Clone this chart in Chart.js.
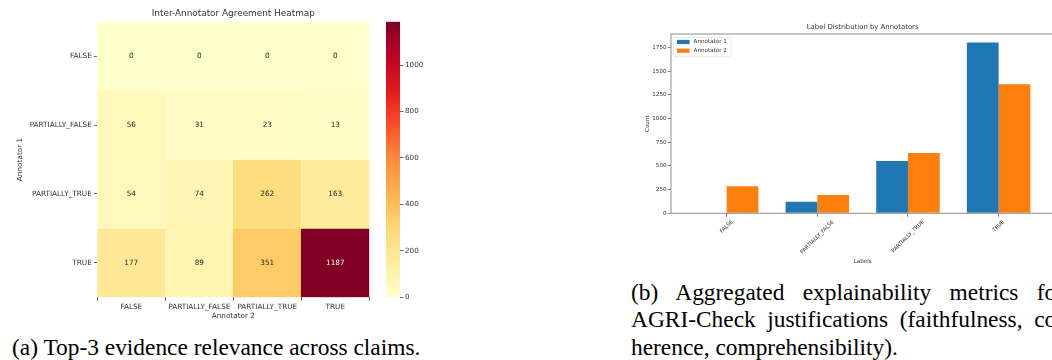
<!DOCTYPE html>
<html>
<head>
<meta charset="utf-8">
<script src="https://cdn.jsdelivr.net/npm/chart.js@4.4.1/dist/chart.umd.min.js"></script>
<style>
  html, body { margin: 0; padding: 0; background: #fff; width: 1052px; height: 360px; overflow: hidden; position: relative; }
  .box { position: absolute; }
  .cap { position: absolute; font-family: "Liberation Serif", "Times New Roman", serif; font-size: 23.4px; line-height: 27.2px; color: #000; white-space: nowrap; }
  .just { text-align: justify; text-align-last: justify; }
</style>
</head>
<body>
<div class="box" style="left:0;top:0;"><canvas id="heat" width="372" height="330"></canvas></div>
<div class="box" style="left:380px;top:0;"><canvas id="cbar" width="60" height="330"></canvas></div>
<div class="box" style="left:600px;top:0;"><canvas id="bars" width="460" height="270"></canvas></div>

<div class="cap" style="left:12px;top:333.6px;">(a) Top-3 evidence relevance across claims.</div>
<div class="cap" style="left:631px;top:279.2px;width:433px;">
  <div class="just">(b) Aggregated explainability metrics for</div>
  <div class="just">AGRI-Check justifications (faithfulness, co-</div>
  <div>herence, comprehensibility).</div>
</div>

<script>
// ---- data -------------------------------------------------------------
const verdictLabels = ['FALSE', 'PARTIALLY_FALSE', 'PARTIALLY_TRUE', 'TRUE'];

// rows: Annotator 1, columns: Annotator 2
const rowFalse          = [0, 0, 0, 0];
const rowPartiallyFalse = [56, 31, 23, 13];
const rowPartiallyTrue  = [54, 74, 262, 163];
const rowTrue           = [177, 89, 351, 1187];
const agreementRows = [rowFalse, rowPartiallyFalse, rowPartiallyTrue, rowTrue];

const colorbarTicks = [0, 200, 400, 600, 800, 1000];

// label totals per annotator
const annotator1Counts = [0, 123, 553, 1804];
const annotator2Counts = [287, 194, 636, 1363];
const countTicks = [0, 250, 500, 750, 1000, 1250, 1500, 1750];

// ---- helpers ----------------------------------------------------------
const SANS = '"DejaVu Sans", "Liberation Sans", sans-serif';
const TEXT = '#333333';

const ylOrRdStops = ['#ffffcc', '#ffeda0', '#fed976', '#feb24c', '#fd8d3c',
                     '#fc4e2a', '#e31a1c', '#bd0026', '#800026'];
function hexToRgb(h) {
  return [parseInt(h.slice(1, 3), 16), parseInt(h.slice(3, 5), 16), parseInt(h.slice(5, 7), 16)];
}
function ylOrRd(t) {
  t = Math.max(0, Math.min(1, t));
  const p = t * (ylOrRdStops.length - 1);
  const i = Math.min(ylOrRdStops.length - 2, Math.floor(p));
  const f = p - i;
  const a = hexToRgb(ylOrRdStops[i]), b = hexToRgb(ylOrRdStops[i + 1]);
  return a.map((v, k) => Math.round(v + (b[k] - v) * f));
}
const rgbStr = c => `rgb(${c[0]},${c[1]},${c[2]})`;
function luminance(c) {
  const lin = c.map(v => { v /= 255; return v <= 0.03928 ? v / 12.92 : Math.pow((v + 0.055) / 1.055, 2.4); });
  return 0.2126 * lin[0] + 0.7152 * lin[1] + 0.0722 * lin[2];
}
const plain = v => String(v);

const vmax = Math.max(...agreementRows.flat());

// ---- heatmap ----------------------------------------------------------
const cellLabels = {
  id: 'cellLabels',
  afterDatasetsDraw(chart) {
    const { ctx } = chart;
    ctx.save();
    ctx.font = `7.3px ${SANS}`;
    ctx.textAlign = 'center';
    ctx.textBaseline = 'middle';
    chart.data.datasets.forEach((ds, r) => {
      chart.getDatasetMeta(r).data.forEach((el, j) => {
        const v = agreementRows[r][j];
        const c = ylOrRd(v / vmax);
        ctx.fillStyle = luminance(c) > 0.408 ? '#262626' : '#ffffff';
        ctx.fillText(String(v), el.x, (el.y + el.base) / 2);
      });
    });
    ctx.restore();
  }
};

new Chart(document.getElementById('heat'), {
  type: 'bar',
  data: {
    labels: verdictLabels,
    datasets: agreementRows.map((row, r) => ({
      label: verdictLabels[r],
      data: row.map(() => [r, r + 1]),
      backgroundColor: row.map(v => rgbStr(ylOrRd(v / vmax))),
      borderWidth: 0,
      grouped: false,
      barPercentage: 1,
      categoryPercentage: 1
    }))
  },
  options: {
    responsive: false,
    animation: false,
    layout: { padding: { left: 0, right: 2.7, top: 0, bottom: 0 } },
    plugins: {
      legend: { display: false },
      tooltip: { enabled: false },
      title: {
        display: true,
        text: 'Inter-Annotator Agreement Heatmap',
        color: TEXT,
        fullSize: false,
        font: { family: SANS, size: 8.9, weight: 'normal' },
        padding: { top: 8.6, bottom: 2.4 }
      }
    },
    scales: {
      x: {
        type: 'category',
        border: { display: false },
        grid: { drawOnChartArea: false, drawTicks: true, tickLength: 3.5, tickColor: '#444', tickWidth: 0.8 },
        ticks: { color: TEXT, font: { family: SANS, size: 7.3 }, padding: 1.5, maxRotation: 0, autoSkip: false },
        title: { display: true, text: 'Annotator 2', color: TEXT, font: { family: SANS, size: 7.3 }, padding: { top: 0, bottom: 9.2 } },
        afterFit(scale) { scale.height = 32.7; }
      },
      y: {
        type: 'linear',
        min: 0,
        max: verdictLabels.length,
        reverse: true,
        border: { display: false },
        grid: { drawOnChartArea: false, drawTicks: true, tickLength: 3.5, tickColor: '#444', tickWidth: 0.8 },
        afterBuildTicks(scale) { scale.ticks = verdictLabels.map((_, i) => ({ value: i + 0.5 })); },
        ticks: {
          color: TEXT, font: { family: SANS, size: 7.3 }, padding: 2,
          callback: v => verdictLabels[Math.floor(v)]
        },
        title: { display: true, text: 'Annotator 1', color: TEXT, font: { family: SANS, size: 7.3 }, padding: { top: 16, bottom: 0 } },
        afterFit(scale) { scale.width = 97.3; }
      }
    }
  },
  plugins: [cellLabels]
});

// ---- colour bar -------------------------------------------------------
new Chart(document.getElementById('cbar'), {
  type: 'bar',
  data: {
    labels: ['scale'],
    datasets: [{
      data: [[0, vmax]],
      borderWidth: 0,
      barPercentage: 1,
      categoryPercentage: 1,
      backgroundColor(ctx) {
        const area = ctx.chart.chartArea;
        if (!area) return ylOrRdStops[0];
        const g = ctx.chart.ctx.createLinearGradient(0, area.bottom, 0, area.top);
        ylOrRdStops.forEach((c, i) => g.addColorStop(i / (ylOrRdStops.length - 1), c));
        return g;
      }
    }]
  },
  options: {
    responsive: false,
    animation: false,
    layout: { padding: { left: 6, right: 0, top: 21.7, bottom: 32.7 } },
    plugins: { legend: { display: false }, tooltip: { enabled: false } },
    scales: {
      x: { display: false },
      y: {
        position: 'right',
        min: 0,
        max: vmax,
        border: { display: false },
        grid: { drawOnChartArea: false, drawTicks: true, tickLength: 3.5, tickColor: '#444', tickWidth: 0.8 },
        afterBuildTicks(scale) { scale.ticks = colorbarTicks.map(v => ({ value: v })); },
        ticks: { color: TEXT, font: { family: SANS, size: 7.2 }, padding: 1.5, callback: plain },
        afterFit(scale) { scale.width = 40; }
      }
    }
  }
});

// ---- label distribution bars -----------------------------------------
const frame = {
  id: 'frame',
  afterDatasetsDraw(chart) {
    const { ctx, chartArea: a } = chart;
    ctx.save();
    ctx.strokeStyle = '#8c8c8c';
    ctx.lineWidth = 1;
    ctx.strokeRect(a.left, a.top, a.right - a.left, a.bottom - a.top);
    ctx.restore();
  }
};

const boxedLegend = {
  id: 'boxedLegend',
  afterDatasetsDraw(chart) {
    const { ctx, chartArea: a } = chart;
    const items = chart.data.datasets;
    ctx.save();
    ctx.font = `5.6px ${SANS}`;
    const tw = Math.max(...items.map(d => ctx.measureText(d.label).width));
    const x0 = a.left + 2.6, y0 = a.top + 3.3;
    const w = 20 + tw + 4, h = 19.4;
    ctx.beginPath();
    ctx.roundRect(x0, y0, w, h, 1.5);
    ctx.fillStyle = 'rgba(255,255,255,0.8)';
    ctx.fill();
    ctx.strokeStyle = '#d6d6d6';
    ctx.lineWidth = 0.6;
    ctx.stroke();
    ctx.textBaseline = 'middle';
    items.forEach((d, i) => {
      const cy = y0 + 4.7 + i * 8.7;
      ctx.fillStyle = d.backgroundColor;
      ctx.fillRect(x0 + 3.4, cy - 2.1, 12.6, 4.2);
      ctx.fillStyle = TEXT;
      ctx.fillText(d.label, x0 + 20, cy);
    });
    ctx.restore();
  }
};

const slantedLabels = {
  id: 'slantedLabels',
  afterDraw(chart) {
    const { ctx, chartArea: a } = chart;
    const xs = chart.scales.x;
    const fs = 5.3;
    ctx.save();
    ctx.font = `${fs}px ${SANS}`;
    ctx.fillStyle = TEXT;
    ctx.textAlign = 'center';
    ctx.textBaseline = 'middle';
    verdictLabels.forEach((lab, i) => {
      const w = ctx.measureText(lab).width;
      const half = (w + fs) * Math.SQRT1_2 / 2;
      const cx = xs.getPixelForValue(i);
      const cy = a.bottom + 3.5 + 2.4 + half;
      ctx.save();
      ctx.translate(cx, cy);
      ctx.rotate(-Math.PI / 4);
      ctx.fillText(lab, 0, 0);
      ctx.restore();
    });
    ctx.restore();
  }
};

const countMax = Math.max(...annotator1Counts, ...annotator2Counts) * 1.05;

new Chart(document.getElementById('bars'), {
  type: 'bar',
  data: {
    datasets: [
      {
        label: 'Annotator 1',
        data: annotator1Counts.map((v, i) => ({ x: i, y: v })),
        backgroundColor: '#1f77b4',
        borderWidth: 0,
        categoryPercentage: 0.7,
        barPercentage: 1
      },
      {
        label: 'Annotator 2',
        data: annotator2Counts.map((v, i) => ({ x: i, y: v })),
        backgroundColor: '#ff7f0e',
        borderWidth: 0,
        categoryPercentage: 0.7,
        barPercentage: 1
      }
    ]
  },
  options: {
    responsive: false,
    animation: false,
    layout: { padding: { left: 0, right: 5.7, top: 0, bottom: 0 } },
    plugins: {
      legend: { display: false },
      tooltip: { enabled: false },
      title: {
        display: true,
        text: 'Label Distribution by Annotators',
        color: TEXT,
        fullSize: false,
        font: { family: SANS, size: 6.9, weight: 'normal' },
        padding: { top: 22.86, bottom: 2.86 }
      }
    },
    scales: {
      x: {
        type: 'linear',
        offset: false,
        min: -0.614,
        max: verdictLabels.length - 1 + 0.614,
        border: { display: false },
        grid: { offset: false, drawOnChartArea: false, drawTicks: true, tickLength: 3.5, tickColor: '#555', tickWidth: 0.7 },
        afterBuildTicks(scale) { scale.ticks = verdictLabels.map((_, i) => ({ value: i })); },
        ticks: { display: false },
        title: { display: true, text: 'Labels', color: TEXT, font: { family: SANS, size: 5.6 }, padding: { top: 0, bottom: 4.7 } },
        afterFit(scale) { scale.height = 56.7; }
      },
      y: {
        min: 0,
        max: countMax,
        border: { display: false },
        grid: { drawOnChartArea: false, drawTicks: true, tickLength: 3.5, tickColor: '#555', tickWidth: 0.7 },
        afterBuildTicks(scale) { scale.ticks = countTicks.map(v => ({ value: v })); },
        ticks: { color: TEXT, font: { family: SANS, size: 5.6 }, padding: 1, callback: plain },
        title: { display: true, text: 'Count', color: TEXT, font: { family: SANS, size: 5.6 }, padding: { top: 43.7, bottom: 0 } },
        afterFit(scale) { scale.width = 71; }
      }
    }
  },
  plugins: [frame, boxedLegend, slantedLabels]
});
</script>
</body>
</html>
